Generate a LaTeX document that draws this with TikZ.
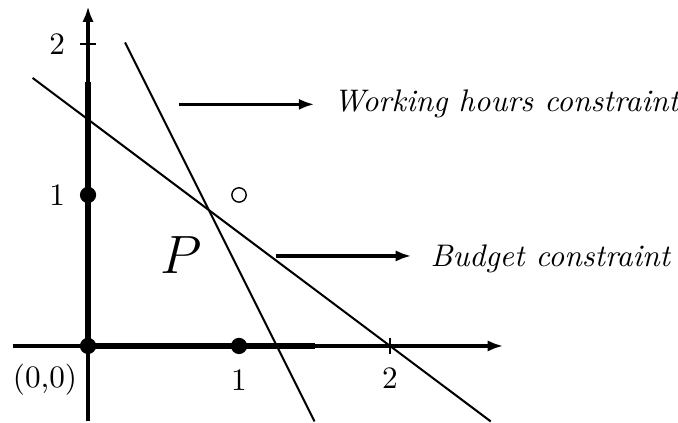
\documentclass[tikz,border=0pt]{standalone}
\usetikzlibrary{arrows.meta}
\begin{document}
\begin{tikzpicture}[x=1.7cm,y=1.7cm,
  axis/.style={line width=1pt,-{Latex[length=5pt,width=3.6pt]}},
  thickseg/.style={line width=1.8pt},
  cline/.style={line width=0.65pt},
  pointer/.style={line width=1pt,-{Latex[length=5pt,width=3.6pt]},shorten >=6pt},
  dot/.style={circle,fill=black,inner sep=0pt,minimum size=5.2pt},
  hole/.style={circle,draw=black,line width=0.45pt,inner sep=0pt,minimum size=4.6pt},
  lab/.style={inner sep=1pt}]
\fill[white] (-0.583,-0.51) rectangle (3.907,2.291);
\useasboundingbox (-0.583,-0.51) rectangle (3.907,2.291);
% axes
\coordinate (xs) at (-0.5,0);
\coordinate (xe) at (2.75,0);
\coordinate (ys) at (0,-0.5);
\coordinate (ye) at (0,2.25);
\draw[axis] (xs) -- (xe);
\draw[axis] (ys) -- (ye);
% thick segments
\coordinate (o) at (0,0);
\coordinate (xt) at (1.5,0);
\coordinate (yt) at (0,1.75);
\draw[thickseg] (o) -- (xt);
\draw[thickseg] (o) -- (yt);
% ticks
\coordinate (tx2a) at (2,-0.055);
\coordinate (tx2b) at (2,0.055);
\coordinate (ty2a) at (-0.055,2);
\coordinate (ty2b) at (0.055,2);
\draw[line width=0.8pt] (tx2a) -- (tx2b);
\draw[line width=0.8pt] (ty2a) -- (ty2b);
% constraint lines
\coordinate (w1) at (0.245,2.01);
\coordinate (w2) at (1.5,-0.5);
\coordinate (b1) at (-0.367,1.775);
\coordinate (b2) at (2.667,-0.5);
\draw[cline] (w1) -- (w2);
\draw[cline] (b1) -- (b2);
% points
\node[dot] (p00) at (0,0) {};
\node[dot] (p10) at (1,0) {};
\node[dot] (p01) at (0,1) {};
\node[hole] (p11) at (1,1) {};
% labels
\node[lab] (l00) at (-0.285,-0.225) {(0,0)};
\node[lab] (lx1) at (1,-0.225) {1};
\node[lab] (lx2) at (2,-0.215) {2};
\node[lab] (ly1) at (-0.205,1) {1};
\node[lab] (ly2) at (-0.205,2) {2};
\node[lab] (P) at (0.62,0.6) {\LARGE $P$};
% annotations
\node[anchor=west,inner sep=0pt] (wh) at (1.623,1.6) {\textit{Working hours constraint}};
\node[anchor=west,inner sep=0pt] (bc) at (2.265,0.58) {\textit{Budget constraint}};
\coordinate (wa) at (0.6,1.6);
\coordinate (ba) at (1.245,0.596);
\draw[pointer] (wa) -- (wh.west);
\draw[pointer] (ba) -- (bc.west |- ba);
\end{tikzpicture}
\end{document}
